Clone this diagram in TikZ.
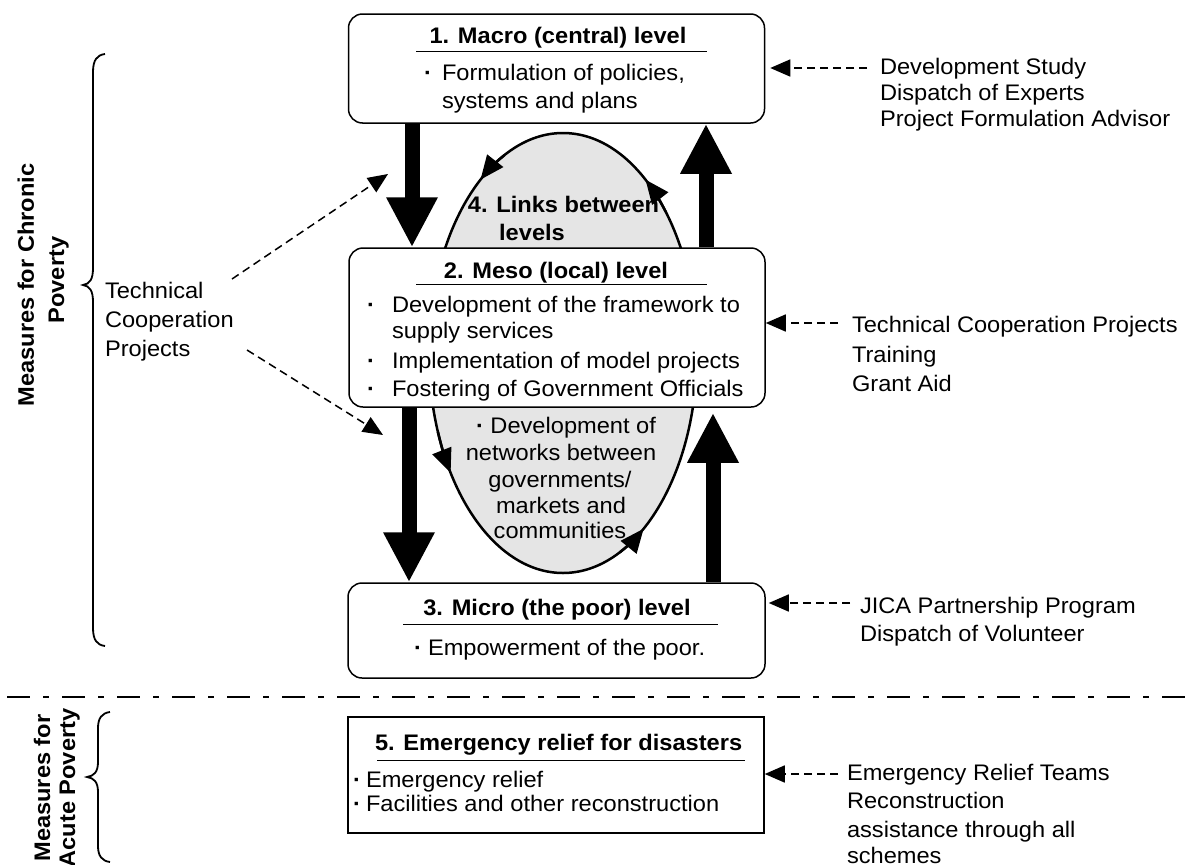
\documentclass[tikz,border=0pt]{standalone}
\usepackage{fontspec}
\setmainfont{Liberation Sans}[FakeStretch=1.05]
\usetikzlibrary{arrows.meta,shapes.geometric,calc}
\newcommand\mybul[1]{\makebox[#1][l]{\bfseries ·}}
\begin{document}
\begin{tikzpicture}[x=1pt,y=-1pt,
  txt/.style={inner sep=0pt, outer sep=0pt, font=\fontsize{22.5}{27}\selectfont},
  ttl/.style={inner sep=0pt, outer sep=0pt, font=\fontsize{22.5}{27}\selectfont\bfseries},
  box/.style={draw, line width=1.5pt, fill=white, inner sep=0pt},
  rbox/.style={box, rounded corners=14pt},
  big/.style={line width=15pt, -{Triangle[length=50pt,width=48pt]}},
  darr/.style={line width=1.5pt, dash pattern=on 8pt off 5pt, -{Triangle[length=20pt,width=17pt]}},
  ellarr/.style={line width=2.5pt, -{Triangle[length=24pt,width=20pt]}},
  ulin/.style={line width=1pt},
  brc/.style={line width=1.8pt},
]
\useasboundingbox (0,0) rectangle (1195,865);
\fill[white] (0,0) rectangle (1195,865);

% links ellipse
\node[draw, line width=2.5pt, fill=gray!20, ellipse, inner sep=0pt,
      minimum width=268pt, minimum height=440pt] (ell) at (563,353) {};
\draw[ellarr] ($(ell.center)+({134*cos(-116)},{220*sin(-116)})$)
   arc[start angle=-116, end angle=-128, x radius=134, y radius=220];
\draw[ellarr] ($(ell.center)+({134*cos(-40)},{220*sin(-40)})$)
   arc[start angle=-40, end angle=-52, x radius=134, y radius=220];
\draw[ellarr] ($(ell.center)+({134*cos(-201)},{220*sin(-201)})$)
   arc[start angle=-201, end angle=-213, x radius=134, y radius=220];
\draw[ellarr] ($(ell.center)+({134*cos(-295)},{220*sin(-295)})$)
   arc[start angle=-295, end angle=-307, x radius=134, y radius=220];

\node[ttl, anchor=base] (t4a) at (563.5,212) {4. Links between};
\node[ttl, anchor=base] (t4b) at (532,240) {levels};
\node[txt, anchor=base] (e1) at (566,433) {{\bfseries ·}\ Development of};
\node[txt, anchor=base] (e2) at (561,460) {networks between};
\node[txt, anchor=base] (e3) at (560,487) {governments/};
\node[txt, anchor=base] (e4) at (561,513) {markets and};
\node[txt, anchor=base] (e5) at (560,538) {communities};

% boxes
\node[rbox, minimum width=416pt, minimum height=109pt] (b1) at (556.5,68.5) {};
\node[rbox, minimum width=416pt, minimum height=159pt] (b2) at (557,327.5) {};
\node[rbox, minimum width=417pt, minimum height=95pt] (b3) at (556.5,630.5) {};
\node[box, minimum width=416pt, minimum height=116pt] (b5) at (556,775) {};

% box 1
\node[ttl, anchor=base] (t1) at (558,43) {1. Macro (central) level};
\draw[ulin] (416,51) -- (707,51);
\node[txt, anchor=base west] (t1a) at (424,80) {\mybul{18pt}Formulation of policies,};
\node[txt, anchor=base west] (t1b) at (442,108) {systems and plans};

% box 2
\node[ttl, anchor=base] (t2) at (556,278) {2. Meso (local) level};
\draw[ulin] (416,284.5) -- (707,284.5);
\node[txt, anchor=base west] (t2a) at (367,312) {\mybul{25pt}Development of the framework to};
\node[txt, anchor=base west] (t2b) at (392,338) {supply services};
\node[txt, anchor=base west] (t2c) at (367,368) {\mybul{25pt}Implementation of model projects};
\node[txt, anchor=base west] (t2d) at (367,396) {\mybul{25pt}Fostering of Government Officials};

% box 3
\node[ttl, anchor=base] (t3) at (557,615) {3. Micro (the poor) level};
\draw[ulin] (403,624) -- (718,624);
\node[txt, anchor=base west] (t3a) at (414,655) {\mybul{14pt}Empowerment of the poor.};

% box 5
\node[ttl, anchor=base west] (t5) at (375,750) {5. Emergency relief for disasters};
\draw[ulin] (377,760) -- (745,760);
\node[txt, anchor=base west] (t5a) at (353,787) {\mybul{13pt}Emergency relief};
\node[txt, anchor=base west] (t5b) at (353,811) {\mybul{13pt}Facilities and other reconstruction};

% thick arrows
\draw[big] ([xshift=-144.5pt]b1.south) -- ([xshift=-145pt]b2.north);
\draw[big] ([xshift=149pt]b2.north) -- ([xshift=149.5pt]b1.south);
\draw[big] ([xshift=-148pt]b2.south) -- ([xshift=-147.5pt]b3.north);
\draw[big] ([xshift=156.5pt]b3.north) -- ([xshift=156pt,yshift=-5pt]b2.south);

% right side
\node[txt, anchor=base west] (r1a) at (880,74) {Development Study};
\node[txt, anchor=base west] (r1b) at (880,100) {Dispatch of Experts};
\node[txt, anchor=base west] (r1c) at (880,126) {Project Formulation Advisor};
\node[txt, anchor=base west] (r2a) at (852,332) {Technical Cooperation Projects};
\node[txt, anchor=base west] (r2b) at (852,362) {Training};
\node[txt, anchor=base west] (r2c) at (852,391) {Grant Aid};
\node[txt, anchor=base west] (r3a) at (860,613) {JICA Partnership Program};
\node[txt, anchor=base west] (r3b) at (860,641) {Dispatch of Volunteer};
\node[txt, anchor=base west] (r5a) at (847,780) {Emergency Relief Teams};
\node[txt, anchor=base west] (r5b) at (847,808) {Reconstruction};
\node[txt, anchor=base west] (r5c) at (847,837) {assistance through all};
\node[txt, anchor=base west] (r5d) at (847,863) {schemes};

\coordinate (r1s) at (867,68);
\coordinate (r2s) at (838,323);
\coordinate (r3s) at (850,603);
\coordinate (r5s) at (838,774);
\draw[darr, shorten >=5pt] (r1s) -- (b1.east |- r1s);
\draw[darr] (r2s) -- (b2.east |- r2s);
\draw[darr, shorten >=3pt] (r3s) -- (b3.east |- r3s);
\draw[darr] (r5s) -- (b5.east |- r5s);

% left side
\node[txt, anchor=base west] (tc1) at (105,298) {Technical};
\node[txt, anchor=base west] (tc2) at (105,327) {Cooperation};
\node[txt, anchor=base west] (tc3) at (105,356) {Projects};
\coordinate (tcu) at (232,279);
\coordinate (tcuE) at (388,174);
\coordinate (tcl) at (247,350);
\coordinate (tclE) at (383,435);
\draw[darr] (tcu) -- (tcuE);
\draw[darr] (tcl) -- (tclE);

\draw[brc] (105,54) .. controls (97,55) and (93,60) .. (93,72) -- (93,268)
  .. controls (93,279) and (90,284) .. (83,285)
  .. controls (90,286) and (93,291) .. (93,302) -- (93,628)
  .. controls (93,640) and (97,645) .. (105,646);
\draw[brc] (110,712) .. controls (102,713) and (98,718) .. (98,728) -- (98,762)
  .. controls (98,772) and (94,776) .. (87,777)
  .. controls (94,778) and (98,782) .. (98,792) -- (98,846)
  .. controls (98,856) and (102,861) .. (110,862);

\node[ttl, rotate=90, anchor=base] (m1) at (34,285) {Measures for Chronic};
\node[ttl, rotate=90, anchor=base] (m2) at (64,280) {Poverty};
\node[ttl, rotate=90, anchor=base] (m3) at (50,788) {Measures for};
\node[ttl, rotate=90, anchor=base] (m4) at (75,788) {Acute Poverty};

% separator
\draw[line width=2pt, dash pattern=on 23pt off 13pt on 6pt off 13pt] (7,697) -- (1195,697);
\end{tikzpicture}
\end{document}
